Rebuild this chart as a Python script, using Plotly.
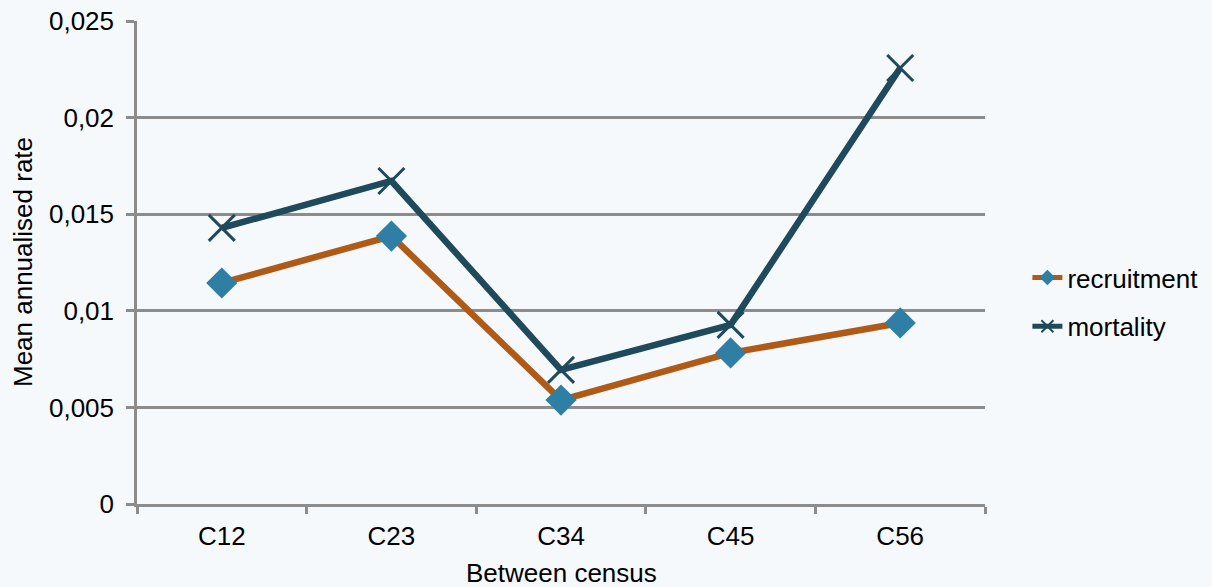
import plotly.graph_objects as go

categories = ["C12", "C23", "C34", "C45", "C56"]
recruitment = [0.01144, 0.01387, 0.00538, 0.00782, 0.00937]
mortality = [0.01429, 0.01672, 0.00694, 0.00927, 0.02257]
y_tickvals = [0, 0.005, 0.01, 0.015, 0.02, 0.025]
y_ticktext = ["0", "0,005", "0,01", "0,015", "0,02", "0,025"]

fig = go.Figure()
fig.add_trace(go.Scatter(
    x=categories, y=recruitment, name="recruitment", mode="lines+markers",
    legendgroup="r",
    line=dict(color="#B05A17", width=6.5),
    marker=dict(symbol="diamond", size=24, color="#2E7FA3"),
))
fig.add_trace(go.Scatter(
    x=categories, y=mortality, name="mortality", mode="lines+markers",
    legendgroup="m",
    line=dict(color="#1F4A5C", width=6.5),
    marker=dict(symbol="x-thin", size=26, color="#1F4A5C",
                line=dict(color="#1F4A5C", width=3)),
))

fig.update_layout(
    width=1212, height=587,
    margin=dict(l=137, r=227, t=21, b=83, autoexpand=False),
    paper_bgcolor="#F5F9FC", plot_bgcolor="rgba(0,0,0,0)",
    font=dict(family="Liberation Sans, Arial", size=26, color="#000000"),
    showlegend=True,
    legend=dict(x=1.05, y=0.418, xanchor="left", yanchor="middle",
                font=dict(size=26), bgcolor="rgba(0,0,0,0)",
                tracegroupgap=12, traceorder="grouped", itemsizing="constant"),
    annotations=[
        dict(text="Between census", xref="paper", yref="paper", x=0.5, y=-0.143,
             xanchor="center", yanchor="middle", showarrow=False, font=dict(size=26)),
        dict(text="Mean annualised rate", xref="paper", yref="paper", x=-0.135, y=0.5,
             xanchor="center", yanchor="middle", textangle=-90, showarrow=False,
             font=dict(size=26)),
    ],
)
fig.update_xaxes(
    type="category", range=[-0.5, 4.5], automargin=False,
    showline=True, linecolor="#8C8C8C", linewidth=2.5,
    ticks="outside", tickson="boundaries", ticklen=7, tickcolor="#8C8C8C", tickwidth=2.5,
    showgrid=False, tickfont=dict(size=26), ticklabelstandoff=7,
)
fig.update_yaxes(
    range=[0, 0.025], tickvals=y_tickvals, ticktext=y_ticktext, automargin=False,
    showline=True, linecolor="#8C8C8C", linewidth=2.5,
    ticks="outside", ticklen=8, tickcolor="#8C8C8C", tickwidth=2.5,
    showgrid=True, gridcolor="#8C8C8C", gridwidth=2.5, zeroline=False,
    tickfont=dict(size=26), ticklabelstandoff=7,
)

fig.write_html("out.html", config={"displayModeBar": False},
               post_script="document.body.style.margin='0';document.body.style.background='#F5F9FC';")
